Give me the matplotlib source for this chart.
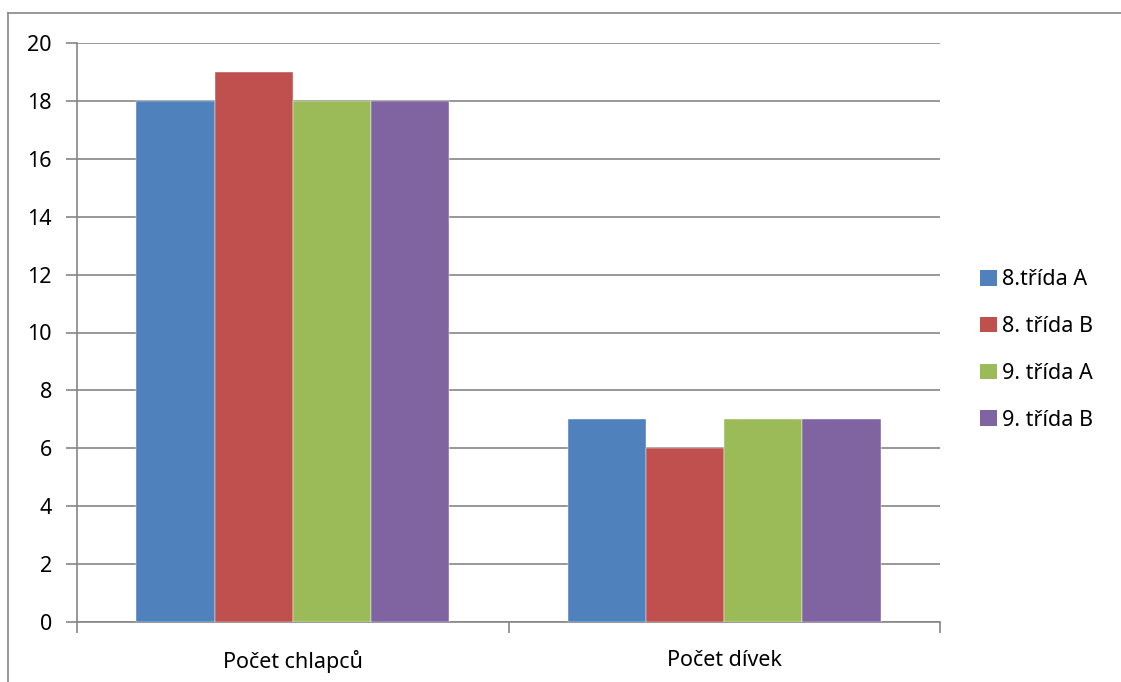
import numpy as np
import matplotlib
matplotlib.use("Agg")
import matplotlib.pyplot as plt
from matplotlib.patches import Patch
from matplotlib.lines import Line2D

# ── Data ──────────────────────────────────────────────────────────────────────
categories = ["Počet chlapců", "Počet dívek"]
series     = ["8.třída A", "8. třída B", "9. třída A", "9. třída B"]
values = {
    "8.třída A":  [18, 7],
    "8. třída B": [19, 6],
    "9. třída A": [18, 7],
    "9. třída B": [18, 7],
}
colors = ["#4F81BD", "#C0504D", "#9BBB59", "#8064A2"]
y_ticks = [0, 2, 4, 6, 8, 10, 12, 14, 16, 18, 20]

plt.rcParams["font.family"] = ["Noto Sans", "DejaVu Sans"]
GRID = "#868686"
FS = 15.5

fig = plt.figure(figsize=(11.21, 6.82), dpi=100)
ax = fig.add_axes([77 / 1121, 60 / 682, 863 / 1121, 579 / 682])

x = np.arange(len(categories))
bar_w = 0.725 / len(series)
for i, (name, col) in enumerate(zip(series, colors)):
    offs = (i - (len(series) - 1) / 2) * bar_w
    ax.bar(x + offs, values[name], width=bar_w, color=col,
           edgecolor="white", linewidth=0.3, zorder=3, label=name)

ax.set_xlim(-0.5, len(categories) - 0.5)
ax.set_ylim(0, 20)
ax.set_yticks(y_ticks)
ax.yaxis.grid(True, color=GRID, linewidth=1.2, zorder=0)
ax.set_axisbelow(True)

# category labels at centres, tick marks at boundaries
ax.set_xticks(x)
ax.set_xticklabels(categories, fontsize=FS)
ax.set_xticks(np.arange(-0.5, len(categories), 1.0), minor=True)
ax.tick_params(axis="x", which="major", length=0, pad=20)
ax.tick_params(axis="x", which="minor", length=8, width=1.2, color=GRID, direction="out")
ax.tick_params(axis="y", length=8, width=1.2, color=GRID, direction="out",
               pad=10, labelsize=FS)

for side in ["top", "right"]:
    ax.spines[side].set_visible(False)
for side in ["left", "bottom"]:
    ax.spines[side].set_color(GRID)
    ax.spines[side].set_linewidth(1.2)

handles = [Patch(facecolor=c, edgecolor="none") for c in colors]
fig.legend(handles, series, loc="center left", bbox_to_anchor=(961 / 1121, 1 - 350 / 682),
           frameon=False, fontsize=FS, handlelength=0.75, handleheight=0.75,
           handletextpad=0.25, labelspacing=1.2)

# outer chart border (left and top)
fig.add_artist(Line2D([8 / 1121, 8 / 1121], [0, 1 - 13 / 682], transform=fig.transFigure,
                      color=GRID, linewidth=1.2))
fig.add_artist(Line2D([8 / 1121, 1], [1 - 13 / 682, 1 - 13 / 682], transform=fig.transFigure,
                      color=GRID, linewidth=1.2))

fig.savefig("out.png", dpi=100)
